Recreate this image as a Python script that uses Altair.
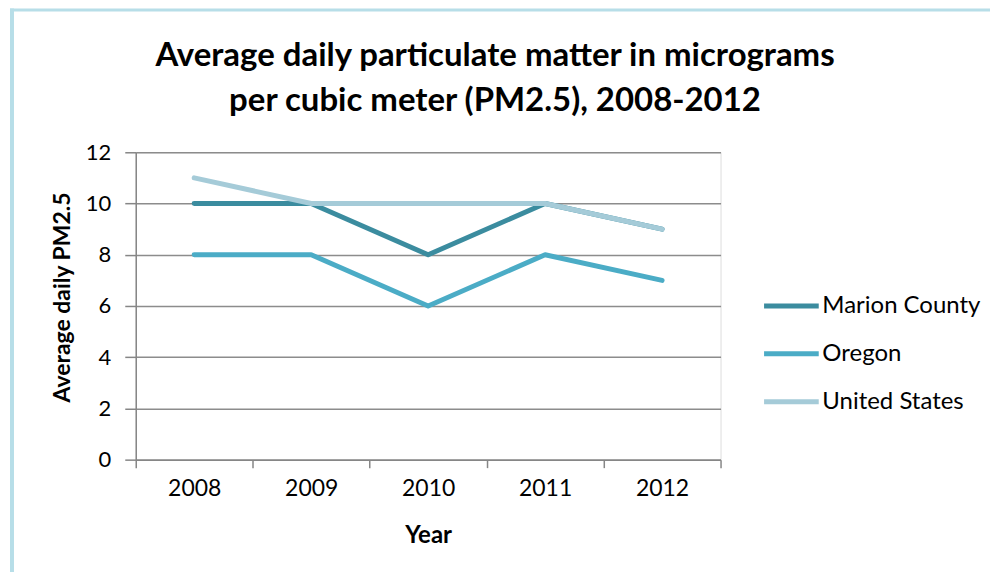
import altair as alt
import pandas as pd

years = [2008, 2009, 2010, 2011, 2012]
series_names = ["Marion County", "Oregon", "United States"]
marion = [10, 10, 8, 10, 9]
oregon = [8, 8, 6, 8, 7]
united_states = [11, 10, 10, 10, 9]
colors = ["#3B8C9F", "#4BACC6", "#A5CBD8"]
y_ticks = [0, 2, 4, 6, 8, 10, 12]

rows = []
for name, vals in zip(series_names, [marion, oregon, united_states]):
    for yr, v in zip(years, vals):
        rows.append({"Year": yr, "Series": name, "Value": v})
df = pd.DataFrame(rows)

W, H = 586, 308

lines = alt.Chart(df).mark_line(strokeWidth=5, strokeCap="round", strokeJoin="round").encode(
    x=alt.X("Year:O", bandPosition=0.5,
            scale=alt.Scale(type="band", domain=years, paddingInner=0, paddingOuter=0),
            axis=alt.Axis(title="Year", grid=False, tickBand="extent", labelAngle=0,
                          tickSize=8, tickColor="#868686", tickWidth=1.5,
                          domainColor="#868686", domainWidth=1.5,
                          labelFont="Lato", labelFontSize=23, labelColor="#000000",
                          labelPadding=10,
                          titleFont="Lato", titleFontSize=24, titleFontWeight="bold",
                          titleColor="#000000", titleY=76, titleBaseline="middle")),
    y=alt.Y("Value:Q",
            scale=alt.Scale(domain=[0, 12], nice=False),
            axis=alt.Axis(values=y_ticks, title="Average daily PM2.5",
                          grid=True, gridColor="#8C8C8C", gridWidth=1.5,
                          tickSize=11, tickColor="#868686", tickWidth=1.5,
                          domainColor="#868686", domainWidth=1.5,
                          labelFont="Lato", labelFontSize=22, labelColor="#000000",
                          labelPadding=14,
                          titleFont="Lato", titleFontSize=23, titleFontWeight="bold",
                          titleColor="#000000", titleX=-73, titleY=H / 2 - 9,
                          titleBaseline="middle", titleAngle=270)),
    color=alt.Color("Series:N",
                    scale=alt.Scale(domain=series_names, range=colors),
                    legend=alt.Legend(title=None, orient="none", legendX=627, legendY=124,
                                      symbolType="stroke", symbolSize=3000,
                                      symbolStrokeWidth=5, rowPadding=6,
                                      labelFont="Lato", labelFontSize=24,
                                      labelColor="#000000", labelOffset=1)),
    order=alt.Order("Series:N"),
)

frame_df = pd.DataFrame({"a": [0]})
frame_top = alt.Chart(frame_df).mark_rule(color="#B7DEE8", strokeWidth=3).encode(
    x=alt.value(-126), x2=alt.value(900), y=alt.value(-142.5))
frame_left = alt.Chart(frame_df).mark_rule(color="#B7DEE8", strokeWidth=4).encode(
    x=alt.value(-124), y=alt.value(-144), y2=alt.value(500))

chart = alt.layer(frame_top, frame_left, lines).properties(
    width=W, height=H,
    autosize=alt.AutoSizeParams(type="none"),
    padding={"left": 128, "top": 144, "right": 270, "bottom": 112},
    title=alt.TitleParams(
        text=["Average daily particulate matter in micrograms",
              "per cubic meter (PM2.5), 2008-2012"],
        font="Lato", fontSize=33, fontWeight="bold", color="#000000",
        anchor="middle", dx=67, baseline="bottom", offset=-145, lineHeight=45),
).configure_view(stroke=None).configure(background="white")

chart.save("out.html", embed_options={"renderer": "svg", "actions": False})
